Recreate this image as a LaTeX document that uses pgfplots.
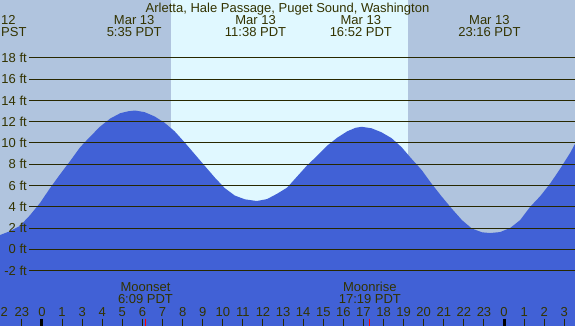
\documentclass[border=0pt]{standalone}
\usepackage{pgfplots}
\pgfplotsset{compat=1.18}
\usepackage{fontspec}
\setmainfont{Liberation Sans}
\definecolor{night}{RGB}{176,196,222}
\definecolor{day}{RGB}{224,248,255}
\definecolor{water}{RGB}{65,97,214}
\definecolor{ink}{RGB}{40,40,0}
\definecolor{txt}{RGB}{51,51,0}
\begin{document}
\fontsize{13}{15}\selectfont
\begin{tikzpicture}
\begin{axis}[
  name=ax,
  scale only axis, width=575pt, height=326pt,
  xmin=-2.09, xmax=26.53, ymin=-7.21, ymax=23.44,
  hide axis, clip=true,
]
\fill[night] (axis cs:-2.09,-7.21) rectangle (axis cs:26.53,23.44);
\fill[day] (axis cs:6.42,-7.21) rectangle (axis cs:18.22,23.44);
\addplot[fill=water, draw=none] coordinates {
(-2.09,-7.21)
(-2.09,1.34) (-1.6,1.7) (-1.1,2.2) (-0.6,3.2) (-0.1,4.35) (0.4,5.75) (0.9,7.05) (1.4,8.3) (1.9,9.6) (2.4,10.6) (2.9,11.55) (3.4,12.3) (3.9,12.8) (4.3,12.98) (4.63,13.05)
(5.1,12.9) (5.6,12.5) (6.1,11.9) (6.6,11.1) (7.1,10.05) (7.6,8.95) (8.1,7.85) (8.6,6.75) (9.1,5.75) (9.6,5.05) (10.1,4.7) (10.69,4.54)
(11.2,4.72) (11.7,5.22) (12.2,5.8) (12.7,6.85) (13.2,7.9) (13.7,8.8) (14.2,9.75) (14.7,10.5) (15.2,11.1) (15.6,11.42) (15.91,11.52)
(16.4,11.38) (16.9,11.0) (17.4,10.45) (17.9,9.6) (18.4,8.5) (18.9,7.45) (19.4,6.15) (19.9,4.95) (20.4,3.82) (20.9,2.75) (21.4,1.95) (21.9,1.6) (22.3,1.53)
(22.8,1.62) (23.3,2.0) (23.8,2.75) (24.3,4.0) (24.8,5.0) (25.3,6.2) (25.8,7.6) (26.3,9.1) (26.53,9.92)
(26.53,-7.21)
};
\pgfplotsinvokeforeach{-2,0,...,18}{
  \draw[ink, line width=1pt] (axis cs:-0.647,#1) -- (axis cs:26.53,#1);
  \node[anchor=east, text=txt, inner sep=0pt] at (axis cs:-0.747,#1) {#1 ft};
}
\pgfplotsinvokeforeach{-1,0,...,26}{
  \draw[ink, line width=1pt] (axis cs:#1,-6.52) -- (axis cs:#1,-7.21);
}
\draw[black, line width=3pt] (axis cs:0,-6.52) -- (axis cs:0,-7.21);
\draw[black, line width=3pt] (axis cs:23,-6.52) -- (axis cs:23,-7.21);
\draw[red, line width=1pt] (axis cs:5.15,-6.52) -- (axis cs:5.15,-7.21);
\draw[red, line width=1pt] (axis cs:16.32,-6.52) -- (axis cs:16.32,-7.21);
% top labels
\node[text=txt, anchor=base west, inner sep=0pt] at (axis cs:-2.04,21.16) {12};
\node[text=txt, anchor=base west, inner sep=0pt] at (axis cs:-2.04,20.03) {PST};
\node[text=txt, anchor=base, inner sep=0pt] at (axis cs:12.22,22.31) {Arletta, Hale Passage, Puget Sound, Washington};
\node[text=txt, anchor=base, inner sep=0pt] at (axis cs:4.59,21.16) {Mar 13};
\node[text=txt, anchor=base, inner sep=0pt] at (axis cs:4.59,20.03) {5:35 PDT};
\node[text=txt, anchor=base, inner sep=0pt] at (axis cs:10.63,21.16) {Mar 13};
\node[text=txt, anchor=base, inner sep=0pt] at (axis cs:10.63,20.03) {11:38 PDT};
\node[text=txt, anchor=base, inner sep=0pt] at (axis cs:15.87,21.16) {Mar 13};
\node[text=txt, anchor=base, inner sep=0pt] at (axis cs:15.87,20.03) {16:52 PDT};
\node[text=txt, anchor=base, inner sep=0pt] at (axis cs:22.27,21.16) {Mar 13};
\node[text=txt, anchor=base, inner sep=0pt] at (axis cs:22.27,20.03) {23:16 PDT};
% moon labels
\node[text=txt, anchor=base, inner sep=0pt] at (axis cs:5.15,-4.01) {Moonset};
\node[text=txt, anchor=base, inner sep=0pt] at (axis cs:5.15,-5.14) {6:09 PDT};
\node[text=txt, anchor=base, inner sep=0pt] at (axis cs:16.32,-4.01) {Moonrise};
\node[text=txt, anchor=base, inner sep=0pt] at (axis cs:16.32,-5.14) {17:19 PDT};
% hour labels
\node[text=txt, anchor=base, inner sep=0pt] at (axis cs:-1.88,-6.34) {2};
\node[text=txt, anchor=base, inner sep=0pt] at (axis cs:-1,-6.34) {23};
\node[text=txt, anchor=base, inner sep=0pt] at (axis cs:0,-6.34) {0};
\node[text=txt, anchor=base, inner sep=0pt] at (axis cs:1,-6.34) {1};
\node[text=txt, anchor=base, inner sep=0pt] at (axis cs:2,-6.34) {3};
\node[text=txt, anchor=base, inner sep=0pt] at (axis cs:3,-6.34) {4};
\node[text=txt, anchor=base, inner sep=0pt] at (axis cs:4,-6.34) {5};
\node[text=txt, anchor=base, inner sep=0pt] at (axis cs:5,-6.34) {6};
\node[text=txt, anchor=base, inner sep=0pt] at (axis cs:6,-6.34) {7};
\node[text=txt, anchor=base, inner sep=0pt] at (axis cs:7,-6.34) {8};
\node[text=txt, anchor=base, inner sep=0pt] at (axis cs:8,-6.34) {9};
\node[text=txt, anchor=base, inner sep=0pt] at (axis cs:9,-6.34) {10};
\node[text=txt, anchor=base, inner sep=0pt] at (axis cs:10,-6.34) {11};
\node[text=txt, anchor=base, inner sep=0pt] at (axis cs:11,-6.34) {12};
\node[text=txt, anchor=base, inner sep=0pt] at (axis cs:12,-6.34) {13};
\node[text=txt, anchor=base, inner sep=0pt] at (axis cs:13,-6.34) {14};
\node[text=txt, anchor=base, inner sep=0pt] at (axis cs:14,-6.34) {15};
\node[text=txt, anchor=base, inner sep=0pt] at (axis cs:15,-6.34) {16};
\node[text=txt, anchor=base, inner sep=0pt] at (axis cs:16,-6.34) {17};
\node[text=txt, anchor=base, inner sep=0pt] at (axis cs:17,-6.34) {18};
\node[text=txt, anchor=base, inner sep=0pt] at (axis cs:18,-6.34) {19};
\node[text=txt, anchor=base, inner sep=0pt] at (axis cs:19,-6.34) {20};
\node[text=txt, anchor=base, inner sep=0pt] at (axis cs:20,-6.34) {21};
\node[text=txt, anchor=base, inner sep=0pt] at (axis cs:21,-6.34) {22};
\node[text=txt, anchor=base, inner sep=0pt] at (axis cs:22,-6.34) {23};
\node[text=txt, anchor=base, inner sep=0pt] at (axis cs:23,-6.34) {0};
\node[text=txt, anchor=base, inner sep=0pt] at (axis cs:24,-6.34) {1};
\node[text=txt, anchor=base, inner sep=0pt] at (axis cs:25,-6.34) {2};
\node[text=txt, anchor=base, inner sep=0pt] at (axis cs:26,-6.34) {3};
\end{axis}
\pgfresetboundingbox
\path[use as bounding box] (ax.south west) rectangle (ax.north east);
\end{tikzpicture}
\end{document}
